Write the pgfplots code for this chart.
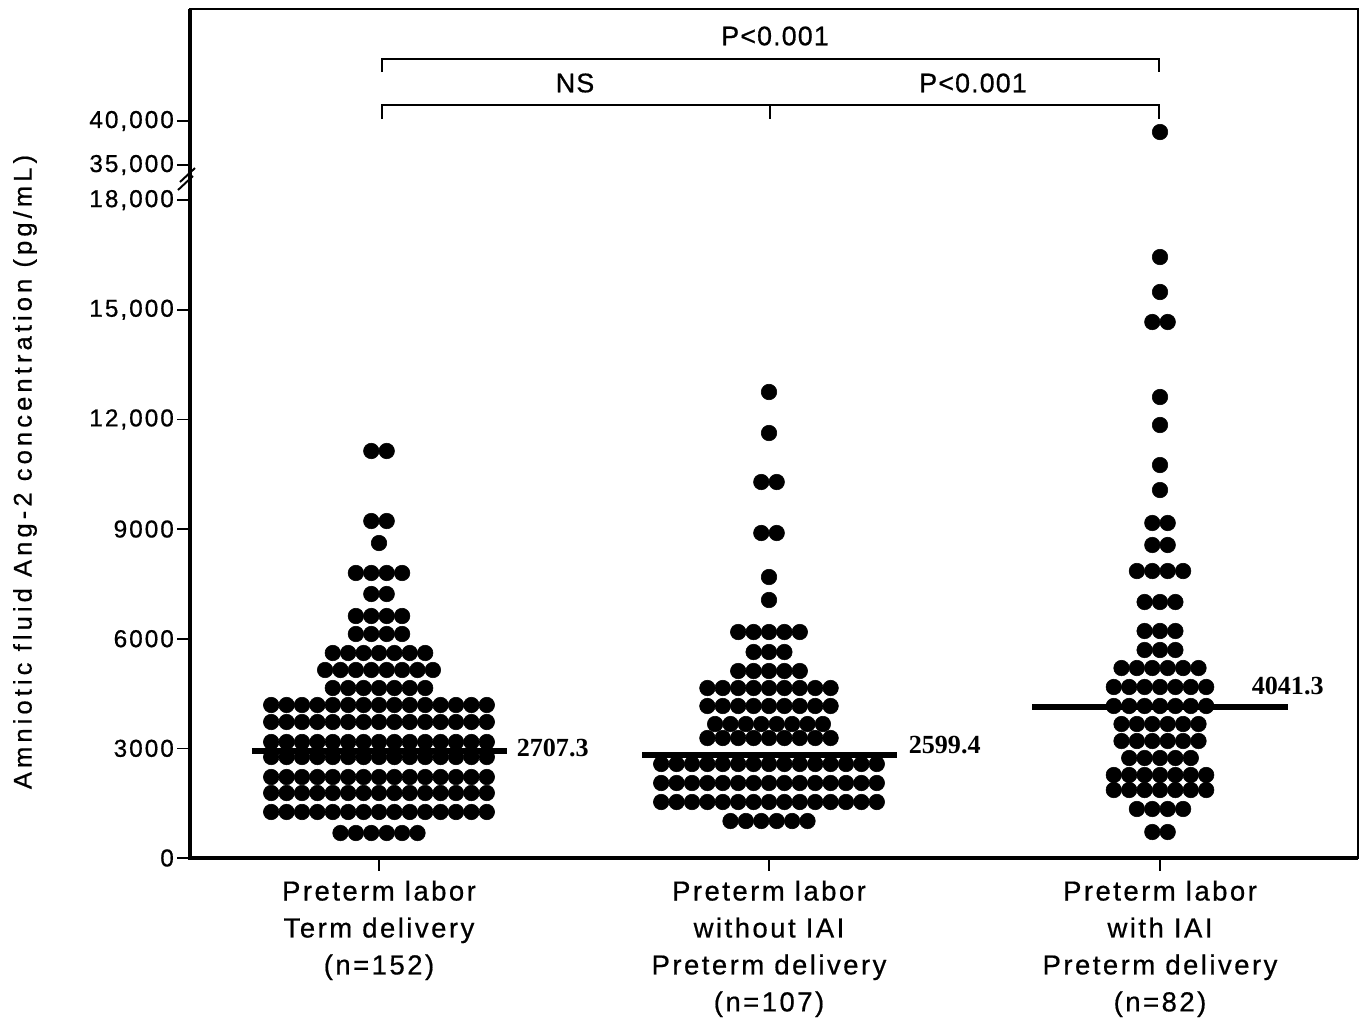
\documentclass[border=0pt]{standalone}
\usepackage{fontspec}
\setmainfont{Liberation Sans}
\newfontfamily\tickfont[LetterSpace=8,FakeBold=0.6]{Liberation Sans}
\newfontfamily\catfont[LetterSpace=9,FakeBold=0.6]{Liberation Sans}
\newfontfamily\labfont[LetterSpace=16,FakeBold=0.6]{Liberation Sans}
\newfontfamily\pfont[LetterSpace=4,FakeBold=0.6]{Liberation Sans}
\newfontfamily\medfont{Liberation Serif}
\usepackage{pgfplots}
\pgfplotsset{compat=1.18}

\begin{document}
\begin{tikzpicture}
% 1 px of the reference = 0.36pt
\useasboundingbox (0,0) rectangle (489.6pt,367.56pt);
\begin{axis}[
  at={(68.4pt,58.68pt)}, anchor=south west,
  scale only axis,
  width=420.48pt, height=305.64pt,
  xmin=190, xmax=1358,
  ymin=0, ymax=23229,
  clip=false,
  axis line style={line width=0.7pt},
  tick align=outside,
  xtick pos=lower, ytick pos=left,
  major tick length=4.6pt,
  tick style={line width=0.6pt, black},
  xtick={379,769,1160},
  xticklabels={Preterm labor\\Term delivery\\(n=152),
               Preterm labor\\without IAI\\Preterm delivery\\(n=107),
               Preterm labor\\with IAI\\Preterm delivery\\(n=82)},
  xticklabel style={font=\catfont\fontsize{9.9}{13.3}\selectfont, align=center},
  % 35,000 and 40,000 sit above the axis break
  ytick={0,3000,6000,9000,12000,15000,18000,18960,20164},
  yticklabels={0,3000,6000,9000,{12,000},{15,000},{18,000},{35,000},{40,000}},
  yticklabel style={font=\tickfont\fontsize{8.8}{10}\selectfont, inner sep=1pt},
]
% group 1: Preterm labor, term delivery
\addplot[only marks, mark=*, mark size=2.8pt, mark options={black, line width=0.2pt},
  x filter/.expression={379+15.4*x}] coordinates {
(-0.5,11136)(0.5,11136)
(-0.5,9220)(0.5,9220)
(0,8618)
(-1.5,7798)(-0.5,7798)(0.5,7798)(1.5,7798)
(-0.5,7223)(0.5,7223)
(-1.5,6621)(-0.5,6621)(0.5,6621)(1.5,6621)
(-1.5,6129)(-0.5,6129)(0.5,6129)(1.5,6129)
(-3,5609)(-2,5609)(-1,5609)(0,5609)(1,5609)(2,5609)(3,5609)
(-3.5,5144)(-2.5,5144)(-1.5,5144)(-0.5,5144)(0.5,5144)(1.5,5144)(2.5,5144)(3.5,5144)
(-3,4651)(-2,4651)(-1,4651)(0,4651)(1,4651)(2,4651)(3,4651)
(-7,4186)(-6,4186)(-5,4186)(-4,4186)(-3,4186)(-2,4186)(-1,4186)(0,4186)(1,4186)(2,4186)(3,4186)(4,4186)(5,4186)(6,4186)(7,4186)
(-7,3721)(-6,3721)(-5,3721)(-4,3721)(-3,3721)(-2,3721)(-1,3721)(0,3721)(1,3721)(2,3721)(3,3721)(4,3721)(5,3721)(6,3721)(7,3721)
(-7,3174)(-6,3174)(-5,3174)(-4,3174)(-3,3174)(-2,3174)(-1,3174)(0,3174)(1,3174)(2,3174)(3,3174)(4,3174)(5,3174)(6,3174)(7,3174)
(-7,2763)(-6,2763)(-5,2763)(-4,2763)(-3,2763)(-2,2763)(-1,2763)(0,2763)(1,2763)(2,2763)(3,2763)(4,2763)(5,2763)(6,2763)(7,2763)
(-7,2216)(-6,2216)(-5,2216)(-4,2216)(-3,2216)(-2,2216)(-1,2216)(0,2216)(1,2216)(2,2216)(3,2216)(4,2216)(5,2216)(6,2216)(7,2216)
(-7,1778)(-6,1778)(-5,1778)(-4,1778)(-3,1778)(-2,1778)(-1,1778)(0,1778)(1,1778)(2,1778)(3,1778)(4,1778)(5,1778)(6,1778)(7,1778)
(-7,1259)(-6,1259)(-5,1259)(-4,1259)(-3,1259)(-2,1259)(-1,1259)(0,1259)(1,1259)(2,1259)(3,1259)(4,1259)(5,1259)(6,1259)(7,1259)
(-2.5,684)(-1.5,684)(-0.5,684)(0.5,684)(1.5,684)(2.5,684)
};
% group 2: Preterm labor without IAI
\addplot[only marks, mark=*, mark size=2.8pt, mark options={black, line width=0.2pt},
  x filter/.expression={769+15.4*x}] coordinates {
(0,12750)
(0,11628)
(-0.5,10287)(0.5,10287)
(-0.5,8892)(0.5,8892)
(0,7688)
(0,7059)
(-2,6183)(-1,6183)(0,6183)(1,6183)(2,6183)
(-1,5636)(0,5636)(1,5636)
(-2,5116)(-1,5116)(0,5116)(1,5116)(2,5116)
(-4,4651)(-3,4651)(-2,4651)(-1,4651)(0,4651)(1,4651)(2,4651)(3,4651)(4,4651)
(-4,4159)(-3,4159)(-2,4159)(-1,4159)(0,4159)(1,4159)(2,4159)(3,4159)(4,4159)
(-3.5,3666)(-2.5,3666)(-1.5,3666)(-0.5,3666)(0.5,3666)(1.5,3666)(2.5,3666)(3.5,3666)
(-4,3283)(-3,3283)(-2,3283)(-1,3283)(0,3283)(1,3283)(2,3283)(3,3283)(4,3283)
(-7,2572)(-6,2572)(-5,2572)(-4,2572)(-3,2572)(-2,2572)(-1,2572)(0,2572)(1,2572)(2,2572)(3,2572)(4,2572)(5,2572)(6,2572)(7,2572)
(-7,2052)(-6,2052)(-5,2052)(-4,2052)(-3,2052)(-2,2052)(-1,2052)(0,2052)(1,2052)(2,2052)(3,2052)(4,2052)(5,2052)(6,2052)(7,2052)
(-7,1532)(-6,1532)(-5,1532)(-4,1532)(-3,1532)(-2,1532)(-1,1532)(0,1532)(1,1532)(2,1532)(3,1532)(4,1532)(5,1532)(6,1532)(7,1532)
(-2.5,1012)(-1.5,1012)(-0.5,1012)(0.5,1012)(1.5,1012)(2.5,1012)
};
% group 3: Preterm labor with IAI
\addplot[only marks, mark=*, mark size=2.8pt, mark options={black, line width=0.2pt},
  x filter/.expression={1160+15.4*x}] coordinates {
(0,16443)
(0,15486)
(-0.5,14665)(0.5,14665)
(0,12613)
(0,11847)
(0,10752)
(0,10068)
(-0.5,9166)(0.5,9166)
(-0.5,8564)(0.5,8564)
(-1.5,7852)(-0.5,7852)(0.5,7852)(1.5,7852)
(-1,7004)(0,7004)(1,7004)
(-1,6211)(0,6211)(1,6211)
(-1,5691)(0,5691)(1,5691)
(-2.5,5198)(-1.5,5198)(-0.5,5198)(0.5,5198)(1.5,5198)(2.5,5198)
(-3,4679)(-2,4679)(-1,4679)(0,4679)(1,4679)(2,4679)(3,4679)
(-3,4159)(-2,4159)(-1,4159)(0,4159)(1,4159)(2,4159)(3,4159)
(-2.5,3666)(-1.5,3666)(-0.5,3666)(0.5,3666)(1.5,3666)(2.5,3666)
(-2.5,3201)(-1.5,3201)(-0.5,3201)(0.5,3201)(1.5,3201)(2.5,3201)
(-2,2736)(-1,2736)(0,2736)(1,2736)(2,2736)
(-3,2271)(-2,2271)(-1,2271)(0,2271)(1,2271)(2,2271)(3,2271)
(-3,1860)(-2,1860)(-1,1860)(0,1860)(1,1860)(2,1860)(3,1860)
(-1.5,1341)(-0.5,1341)(0.5,1341)(1.5,1341)
(-0.5,711)(0.5,711)
};
% the one value above the break
\addplot[only marks, mark=*, mark size=2.8pt, mark options={black, line width=0.2pt},
  x filter/.expression={1160+15.4*x},
  y filter/.expression={18960+(y-35000)*0.2408}] coordinates {(0,38750)};

% medians
\addplot[line width=2.2pt] coordinates {(252,2928)(507,2928)};
\addplot[line width=2.2pt] coordinates {(642,2818)(897,2818)};
\addplot[line width=2.2pt] coordinates {(1032,4131)(1288,4131)};
\node[anchor=west, font=\medfont\bfseries\fontsize{9.4}{10}\selectfont] at (axis cs:507,3010) {2707.3};
\node[anchor=west, font=\medfont\bfseries\fontsize{9.4}{10}\selectfont] at (axis cs:899,3092) {2599.4};
\node[anchor=west, font=\medfont\bfseries\fontsize{9.4}{10}\selectfont] at (axis cs:1242,4706) {4041.3};

% thick left and bottom axis lines
\draw[line width=1.2pt] (rel axis cs:0,1) -- (rel axis cs:0,0) -- (rel axis cs:1,0);
% axis break
\draw[line width=0.7pt] (axis cs:180,18495) -- (axis cs:195,18878);
\draw[line width=0.7pt] (axis cs:178,18276) -- (axis cs:193,18660);

% comparison brackets
\draw[line width=0.7pt] (axis cs:382,21505) -- (axis cs:382,21861) -- (axis cs:1159,21861) -- (axis cs:1159,21505);
\draw[line width=0.7pt] (axis cs:382,20219) -- (axis cs:382,20602) -- (axis cs:1159,20602) -- (axis cs:1159,20219);
\draw[line width=0.7pt] (axis cs:770,20602) -- (axis cs:770,20219);
\node[font=\pfont\fontsize{9.7}{11}\selectfont] at (axis cs:775,22490) {P<0.001};
\node[font=\pfont\fontsize{9.7}{11}\selectfont] at (axis cs:575,21204) {NS};
\node[font=\pfont\fontsize{9.7}{11}\selectfont] at (axis cs:973,21204) {P<0.001};

% y label
\node[rotate=90, font=\labfont\fontsize{9.2}{10}\selectfont] at (axis cs:25,10561) {Amniotic fluid Ang-2 concentration (pg/mL)};
\end{axis}
\end{tikzpicture}
\end{document}
